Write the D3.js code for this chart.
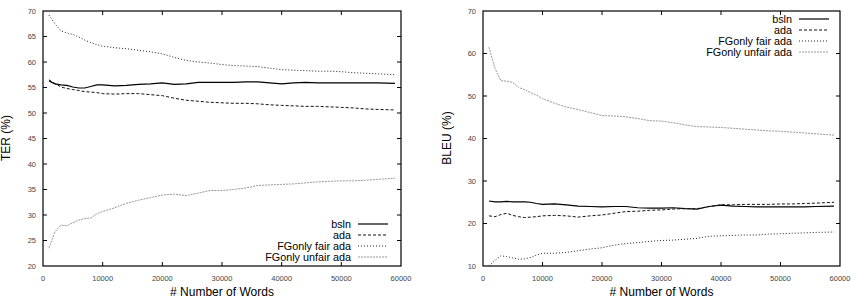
<!DOCTYPE html>
<html>
<head>
<meta charset="utf-8">
<script src="https://cdn.jsdelivr.net/npm/d3@7"></script>
<style>
  body { margin: 0; background: #fff; }
  svg { display: block; font-family: "Liberation Sans", Arial, sans-serif; }
</style>
</head>
<body>
<svg id="chart" width="852" height="298"></svg>
<script>
// sample positions (# words)
const words = [1000, 2000, 3000, 4000, 5000, 6000, 7000, 8000, 9000, 10000,
  12000, 14000, 16000, 18000, 20000, 22000, 24000, 26000, 28000, 30000,
  32000, 34000, 36000, 38000, 40000, 42000, 44000, 46000, 48000, 50000,
  52000, 54000, 56000, 59000];

const seriesNames = ["bsln", "ada", "FGonly fair ada", "FGonly unfair ada"];

// TER (%)
const terBsln = [56.3, 55.7, 55.5, 55.4, 55.1, 54.9, 54.9, 55.2, 55.5, 55.5,
  55.3, 55.4, 55.6, 55.7, 55.9, 55.6, 55.7, 56.0, 56.0, 56.0,
  56.0, 56.1, 56.1, 55.9, 55.7, 55.9, 56.0, 55.9, 55.9, 55.9,
  55.9, 55.9, 55.9, 55.8];
const terAda = [56.5, 55.8, 55.1, 54.8, 54.6, 54.4, 54.2, 54.1, 54.0, 53.8,
  53.7, 53.8, 53.8, 53.6, 53.4, 52.9, 52.5, 52.3, 52.1, 52.0,
  51.9, 51.9, 51.8, 51.6, 51.5, 51.4, 51.3, 51.3, 51.2, 51.1,
  51.0, 50.8, 50.7, 50.6];
const terFair = [69.2, 67.5, 66.1, 65.7, 65.4, 64.9, 64.3, 63.8, 63.4, 63.1,
  62.8, 62.6, 62.3, 62.0, 61.6, 60.9, 60.3, 60.0, 59.8, 59.5,
  59.3, 59.2, 59.1, 58.8, 58.5, 58.4, 58.3, 58.2, 58.2, 58.1,
  57.9, 57.8, 57.7, 57.5];
const terUnfair = [23.5, 26.7, 28.0, 27.9, 28.5, 29.0, 29.3, 29.4, 30.2, 30.7,
  31.4, 32.3, 32.9, 33.4, 33.9, 34.1, 33.8, 34.3, 34.8, 34.8,
  35.0, 35.3, 35.8, 35.9, 36.0, 36.1, 36.3, 36.5, 36.6, 36.7,
  36.7, 36.8, 37.0, 37.2];

// BLEU (%)
const bleuBsln = [25.3, 25.1, 25.1, 25.2, 25.1, 25.1, 25.1, 25.0, 24.7, 24.5,
  24.6, 24.4, 24.1, 24.0, 23.9, 24.0, 24.0, 23.7, 23.6, 23.6,
  23.7, 23.5, 23.4, 24.0, 24.3, 24.1, 24.0, 23.9, 23.9, 23.9,
  23.9, 23.9, 24.0, 24.1];
const bleuAda = [21.8, 21.6, 22.1, 22.4, 21.9, 21.6, 21.4, 21.5, 21.6, 21.8,
  21.9, 21.8, 21.5, 21.8, 22.0, 22.4, 22.8, 22.9, 23.1, 23.2,
  23.4, 23.5, 23.5, 24.0, 24.4, 24.4, 24.5, 24.5, 24.5, 24.6,
  24.6, 24.7, 24.8, 25.0];
const bleuFair = [10.0, 11.3, 12.4, 12.2, 11.9, 11.6, 11.7, 12.0, 12.6, 13.0,
  13.0, 13.2, 13.6, 14.0, 14.3, 14.9, 15.3, 15.5, 15.8, 16.0,
  16.1, 16.3, 16.5, 17.0, 17.1, 17.2, 17.3, 17.3, 17.5, 17.6,
  17.7, 17.8, 17.9, 18.0];
const bleuUnfair = [61.5, 56.5, 53.6, 53.5, 53.2, 52.0, 51.5, 50.8, 50.2, 49.4,
  48.3, 47.4, 46.8, 46.1, 45.4, 45.3, 45.1, 44.7, 44.2, 44.1,
  43.7, 43.2, 42.8, 42.7, 42.6, 42.4, 42.2, 42.0, 41.8, 41.7,
  41.5, 41.3, 41.1, 40.8];

const xTicks = [0, 10000, 20000, 30000, 40000, 50000, 60000];
const terTicks = [20, 25, 30, 35, 40, 45, 50, 55, 60, 65, 70];
const bleuTicks = [10, 20, 30, 40, 50, 60, 70];

const styles = [
  { stroke: "#000", width: 1.2, dash: null },
  { stroke: "#111", width: 1, dash: "3,2" },
  { stroke: "#222", width: 1, dash: "1,2" },
  { stroke: "#999", width: 1, dash: "2,1" }
];

const svg = d3.select("#chart");

function panel(opts) {
  const x = d3.scaleLinear().domain([0, 60000]).range([opts.left, opts.right]);
  const y = d3.scaleLinear().domain(opts.yDomain).range([266, 11]);
  const g = svg.append("g");

  // frame
  g.append("rect")
    .attr("x", opts.left).attr("y", 11)
    .attr("width", opts.right - opts.left).attr("height", 255)
    .attr("fill", "none").attr("stroke", "#000").attr("stroke-width", 1.2);

  const tk = 4;
  // x ticks (bottom + mirrored top)
  xTicks.forEach(t => {
    if (t > 0 && t < 60000) {
      g.append("line").attr("x1", x(t)).attr("x2", x(t)).attr("y1", 266).attr("y2", 266 - tk).attr("stroke", "#000");
      g.append("line").attr("x1", x(t)).attr("x2", x(t)).attr("y1", 11).attr("y2", 11 + tk).attr("stroke", "#000");
    }
    g.append("text").attr("x", x(t)).attr("y", 281)
      .attr("text-anchor", "middle").attr("font-size", 7.5).attr("fill", "#444")
      .text(t);
  });
  // y ticks
  opts.yTicks.forEach(t => {
    if (t > opts.yDomain[0] && t < opts.yDomain[1]) {
      g.append("line").attr("x1", opts.left).attr("x2", opts.left + tk).attr("y1", y(t)).attr("y2", y(t)).attr("stroke", "#000");
      g.append("line").attr("x1", opts.right).attr("x2", opts.right - tk).attr("y1", y(t)).attr("y2", y(t)).attr("stroke", "#000");
    }
    g.append("text").attr("x", opts.left - 7).attr("y", y(t) + 2.5)
      .attr("text-anchor", "end").attr("font-size", 7.5).attr("fill", "#444")
      .text(t);
  });

  // axis titles
  g.append("text").attr("x", (opts.left + opts.right) / 2).attr("y", 296)
    .attr("text-anchor", "middle").attr("font-size", 12).text("# Number of Words");
  g.append("text")
    .attr("transform", `translate(${opts.yLabelX},138) rotate(-90)`)
    .attr("text-anchor", "middle").attr("font-size", 12).text(opts.yLabel);

  const line = d3.line().x((d, i) => x(words[i])).y(d => y(d));
  opts.series.forEach((vals, k) => {
    const s = styles[k];
    g.append("path").datum(vals)
      .attr("d", line).attr("fill", "none")
      .attr("stroke", s.stroke).attr("stroke-width", s.width)
      .attr("stroke-dasharray", s.dash);
  });

  // legend
  seriesNames.forEach((name, k) => {
    const s = styles[k];
    const ly = opts.legendY + k * 11;
    g.append("text").attr("x", opts.legendX).attr("y", ly + 4)
      .attr("text-anchor", "end").attr("font-size", 10.8).text(name);
    g.append("line").attr("x1", opts.legendX + 7).attr("x2", opts.legendX + 37)
      .attr("y1", ly).attr("y2", ly)
      .attr("stroke", s.stroke).attr("stroke-width", s.width)
      .attr("stroke-dasharray", s.dash);
  });
}

panel({
  left: 43, right: 401, yDomain: [20, 70], yTicks: terTicks,
  yLabel: "TER (%)", yLabelX: 10,
  series: [terBsln, terAda, terFair, terUnfair],
  legendX: 351, legendY: 224
});

panel({
  left: 483, right: 840, yDomain: [10, 70], yTicks: bleuTicks,
  yLabel: "BLEU (%)", yLabelX: 451,
  series: [bleuBsln, bleuAda, bleuFair, bleuUnfair],
  legendX: 792, legendY: 19
});
</script>
</body>
</html>
